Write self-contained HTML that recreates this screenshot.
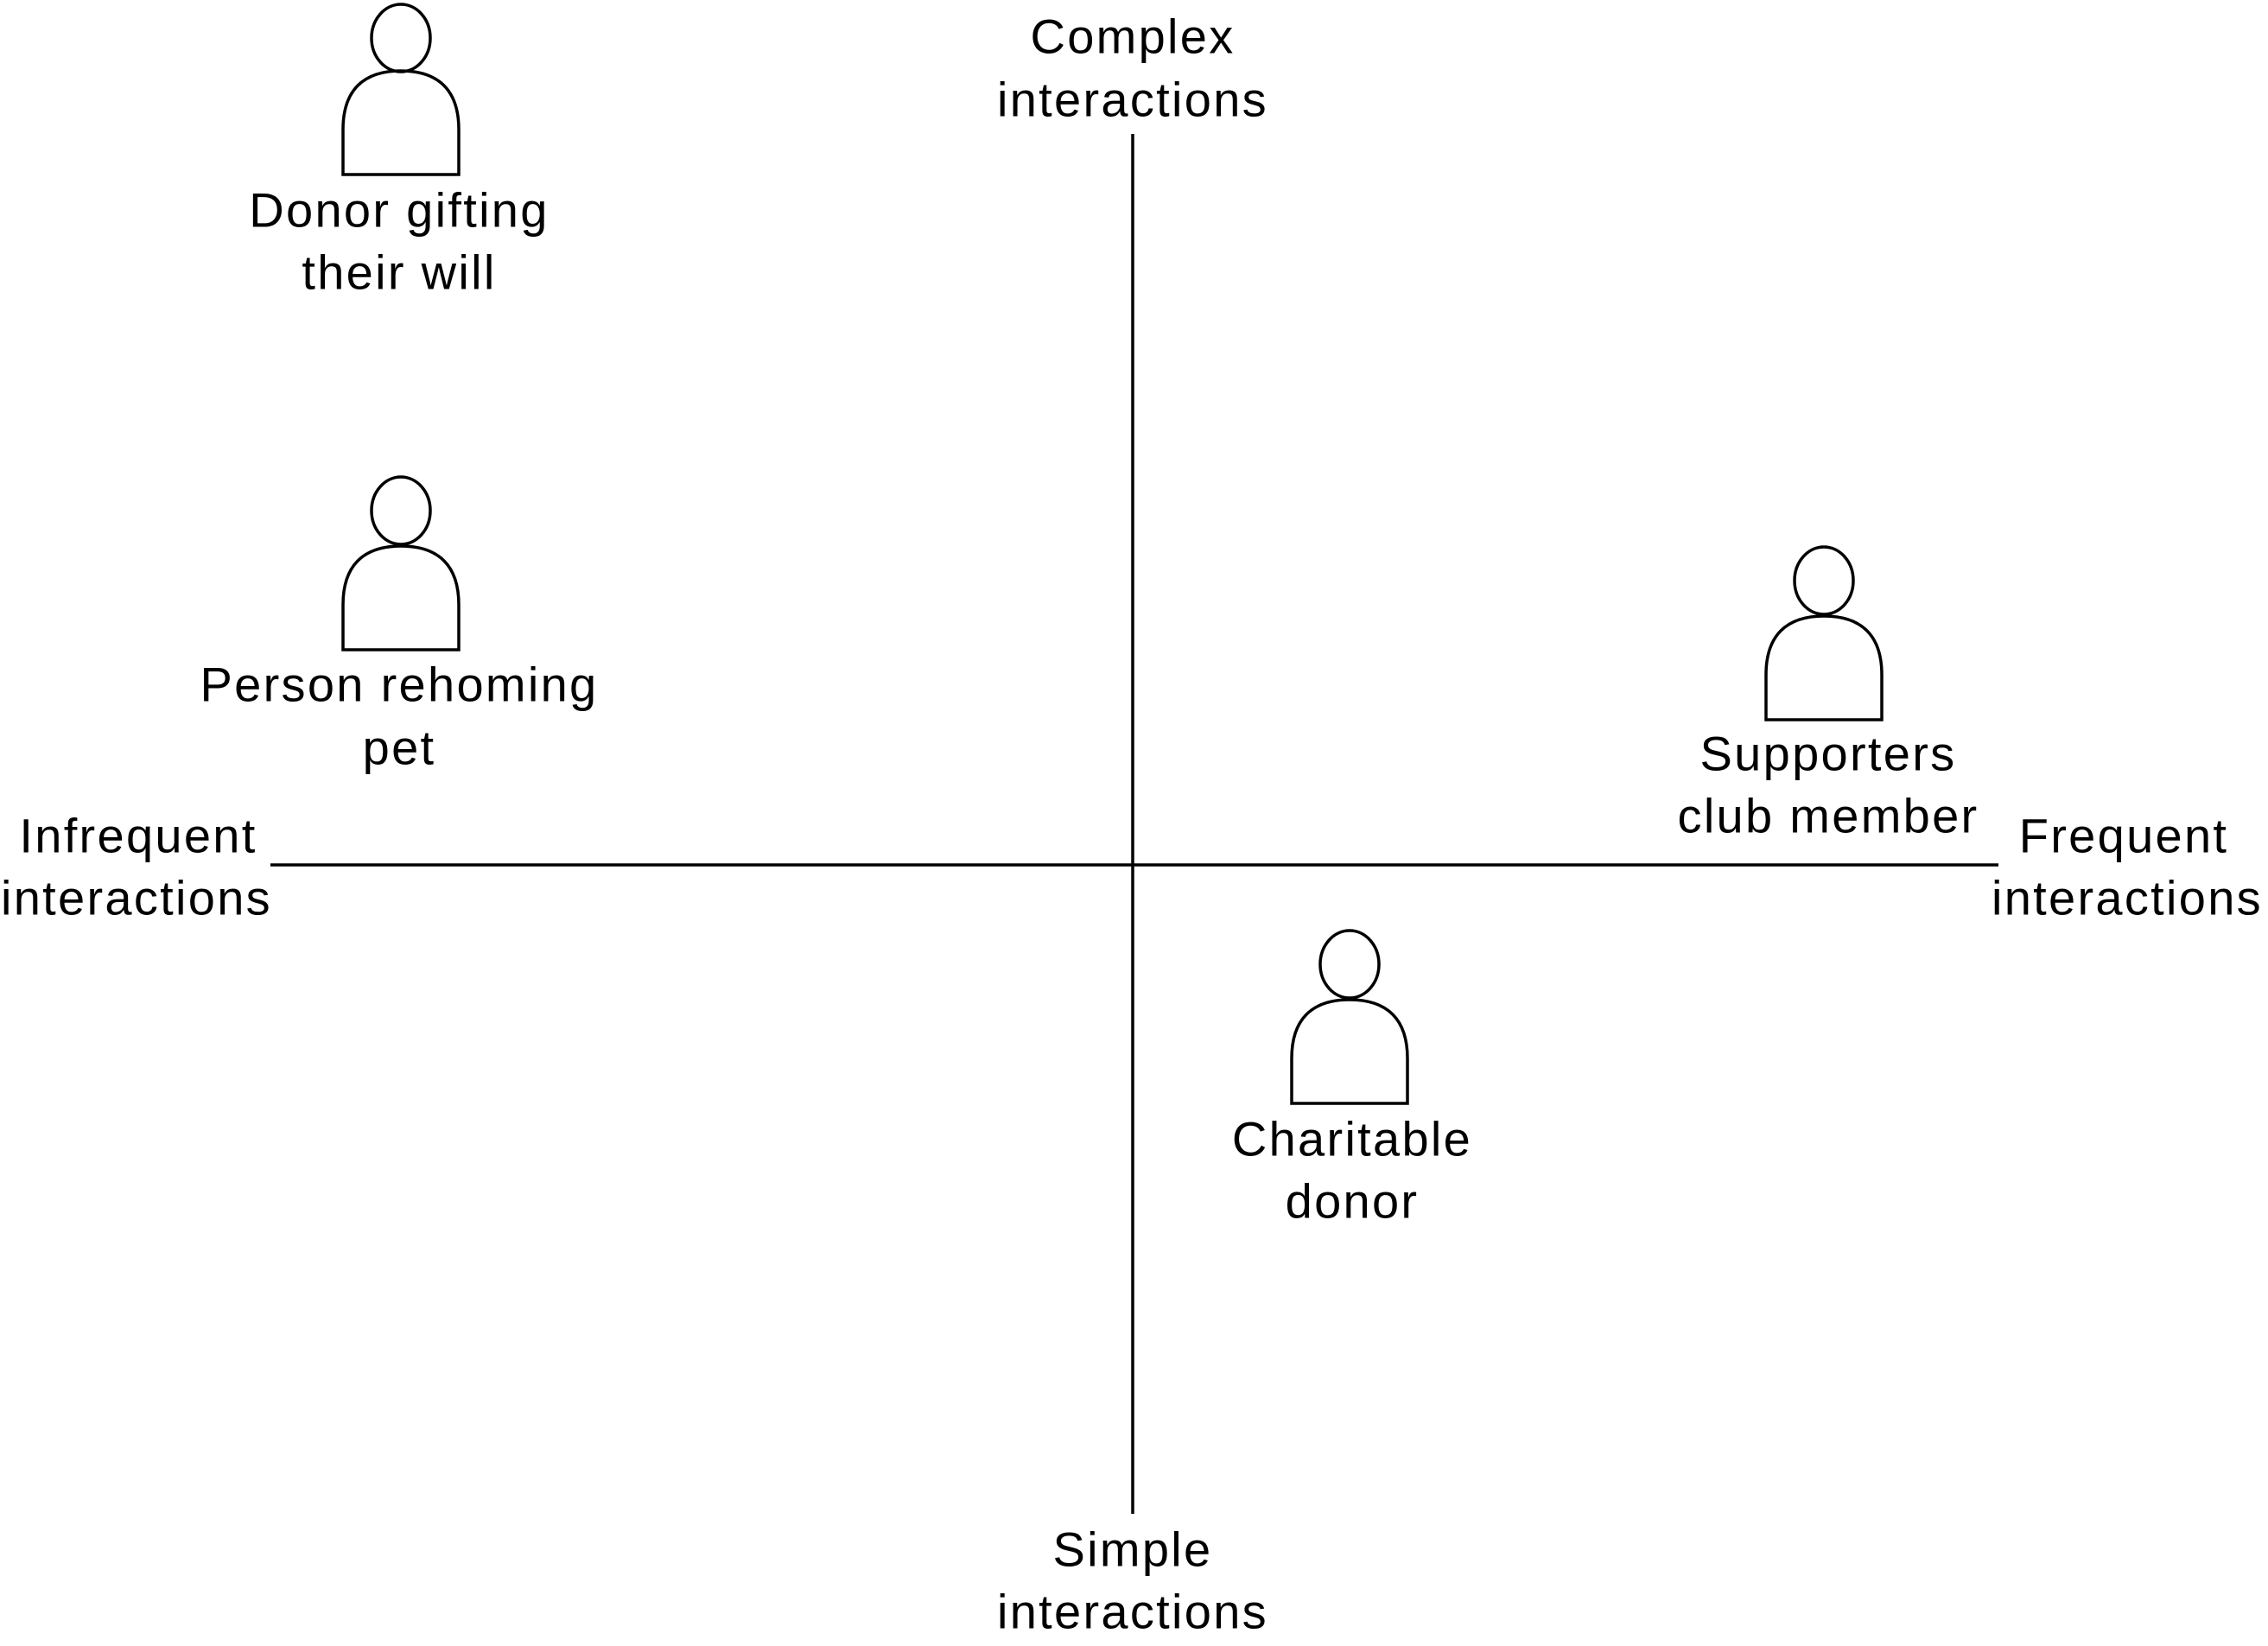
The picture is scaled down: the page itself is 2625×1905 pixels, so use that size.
<!DOCTYPE html>
<html><head><meta charset="utf-8"><style>
html,body{margin:0;padding:0;background:#fff;}
svg{display:block;}
text{font-family:"Liberation Sans",Arial,sans-serif;font-size:56px;fill:#000;text-anchor:middle;dominant-baseline:central;letter-spacing:2.3px;}
</style></head><body>
<svg width="2625" height="1905" viewBox="0 0 2625 1905" xmlns="http://www.w3.org/2000/svg">
<g stroke="#000" stroke-width="3.5" fill="none">
<line x1="1311" y1="155" x2="1311" y2="1752"/>
<line x1="313" y1="1001" x2="2313" y2="1001"/>
<ellipse cx="464" cy="44" rx="34" ry="39" fill="#fff"/>
<path d="M397,202 L397,150 C397,105 420,82 464,82 C508,82 531,105 531,150 L531,202 Z"/>
<ellipse cx="464" cy="591" rx="34" ry="39" fill="#fff"/>
<path d="M397,752 L397,700 C397,655 420,632 464,632 C508,632 531,655 531,700 L531,752 Z"/>
<ellipse cx="2111" cy="672" rx="34" ry="39" fill="#fff"/>
<path d="M2044,833 L2044,781 C2044,736 2067,713 2111,713 C2155,713 2178,736 2178,781 L2178,833 Z"/>
<ellipse cx="1562" cy="1116" rx="34" ry="39" fill="#fff"/>
<path d="M1495,1277 L1495,1225 C1495,1180 1518,1157 1562,1157 C1606,1157 1629,1180 1629,1225 L1629,1277 Z"/>
</g>
<text x="1311" y="42">Complex</text>
<text x="1311" y="115">interactions</text>
<text x="1311" y="1793">Simple</text>
<text x="1311" y="1865">interactions</text>
<text x="160" y="967">Infrequent</text>
<text x="158" y="1039">interactions</text>
<text x="2458" y="967">Frequent</text>
<text x="2462" y="1039">interactions</text>
<text x="462" y="243">Donor gifting</text>
<text x="462" y="315">their will</text>
<text x="462" y="792">Person rehoming</text>
<text x="462" y="865">pet</text>
<text x="2116" y="872">Supporters</text>
<text x="2116" y="944">club member</text>
<text x="1565" y="1318">Charitable</text>
<text x="1565" y="1390">donor</text>
</svg>
</body></html>
